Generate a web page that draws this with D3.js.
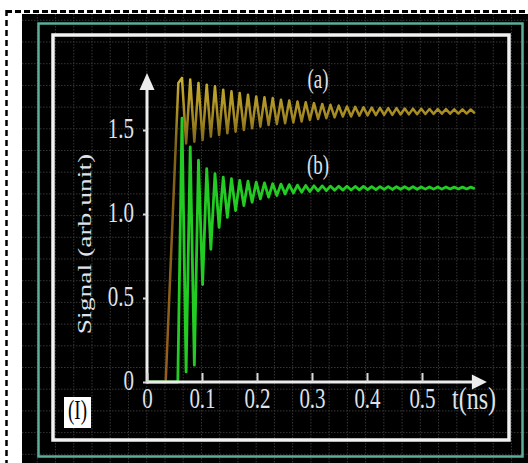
<!DOCTYPE html>
<html><head><meta charset="utf-8">
<script src="https://cdn.jsdelivr.net/npm/d3@7"></script>
<style>html,body{margin:0;padding:0;background:#fff;} svg{display:block}</style>
</head><body>
<svg id="c" width="528" height="463"></svg>
<script>
// ---------- data ----------
const xTicks = [0, 0.1, 0.2, 0.3, 0.4, 0.5];
const xTickLabels = ["0", "0.1", "0.2", "0.3", "0.4", "0.5"];
const yTicks = [0, 0.5, 1.0, 1.5];
const yTickLabels = ["0", "0.5", "1.0", "1.5"];
const seriesLabels = ["(a)", "(b)"];
const xAxisTitle = "t(ns)";
const yAxisTitle = "Signal (arb.unit)";
const panelLabel = "(I)";

// rising edge before oscillations
const riseTimeA = [0, 0.034, 0.057];
const riseValA  = [0, 0, 1.78];
const riseTimeB = [0, 0.056];
const riseValB  = [0, 0];

// times of oscillation extrema (peaks / troughs)
const oscTime = [0.0636,0.0711,0.0786,0.0861,0.0936,0.1011,0.1086,0.1161,0.1236,0.1311,
0.1386,0.1461,0.1536,0.1611,0.1686,0.1761,0.1836,0.1911,0.1986,0.2061,
0.2136,0.2211,0.2286,0.2361,0.2436,0.2511,0.2586,0.2661,0.2736,0.2811,
0.2886,0.2961,0.3036,0.3111,0.3186,0.3261,0.3336,0.3411,0.3486,0.3561,
0.3636,0.3711,0.3786,0.3861,0.3936,0.4011,0.4086,0.4161,0.4236,0.4311,
0.4386,0.4461,0.4536,0.4611,0.4686,0.4761,0.4836,0.4911,0.4986,0.5061,
0.5136,0.5211,0.5286,0.5361,0.5436,0.5511,0.5586,0.5661,0.5736,0.5811,
0.5886,0.5961];

// series (a)
const oscValA = [1.81,1.42,1.80,1.43,1.78,1.44,1.77,1.46,1.76,1.47,
1.74,1.48,1.73,1.49,1.72,1.50,1.71,1.51,1.70,1.52,
1.695,1.53,1.69,1.535,1.68,1.54,1.675,1.545,1.67,1.55,
1.665,1.56,1.66,1.565,1.655,1.57,1.65,1.575,1.645,1.58,
1.64,1.58,1.638,1.585,1.635,1.587,1.633,1.588,1.632,1.59,
1.63,1.59,1.63,1.592,1.628,1.593,1.627,1.594,1.626,1.595,
1.625,1.596,1.624,1.597,1.624,1.597,1.623,1.598,1.623,1.598,
1.622,1.599];

// series (b)
const oscValB = [1.57,0.06,1.40,0.10,1.32,0.58,1.27,0.79,1.24,0.92,
1.22,0.98,1.21,1.02,1.20,1.05,1.195,1.07,1.19,1.09,
1.185,1.10,1.18,1.11,1.178,1.12,1.175,1.125,1.172,1.13,
1.17,1.134,1.168,1.137,1.167,1.139,1.166,1.141,1.165,1.142,
1.165,1.143,1.164,1.144,1.164,1.145,1.163,1.145,1.163,1.146,
1.163,1.146,1.162,1.147,1.162,1.147,1.162,1.147,1.161,1.148,
1.161,1.148,1.161,1.148,1.161,1.149,1.160,1.149,1.160,1.149,
1.160,1.150];

// ---------- layout ----------
const W = 528, H = 463;
const svg = d3.select("#c");
const x = d3.scaleLinear().domain([0, 0.5]).range([147, 422]);
const y = d3.scaleLinear().domain([0, 1.5]).range([382, 130]);
const xArrowEnd = 0.618, yArrowEnd = 1.84;
const serif = "'Liberation Serif','Times New Roman',serif";
const VS = 1.45; // vertical stretch of text in the picture

// page frame
svg.append("rect").attr("x",0).attr("y",0).attr("width",W).attr("height",H).attr("fill","#fff");
svg.append("line").attr("x1",6).attr("x2",W).attr("y1",11.5).attr("y2",11.5)
  .attr("stroke","#000").attr("stroke-width",3).attr("stroke-dasharray","6,3");
svg.append("line").attr("x1",6.5).attr("x2",6.5).attr("y1",10).attr("y2",H)
  .attr("stroke","#000").attr("stroke-width",2.5).attr("stroke-dasharray","6,4");
svg.append("rect").attr("x",22).attr("y",14).attr("width",W-22).attr("height",H-14).attr("fill","#000");

// background dotted grid
const grid = svg.append("g").attr("stroke","#363636").attr("stroke-width",1).attr("stroke-dasharray","1.5,1.5");
for (let k=-3;k<=23;k++){ const gx=92+18.24*k; grid.append("line").attr("x1",gx).attr("x2",gx).attr("y1",14).attr("y2",H); }
for (let k=-1;k<=19;k++){ const gy=42+21.7*k; if(gy<14) continue; grid.append("line").attr("x1",22).attr("x2",W).attr("y1",gy).attr("y2",gy); }

// frames
svg.append("rect").attr("x",38.5).attr("y",23.5).attr("width",484).attr("height",433)
  .attr("fill","none").attr("stroke","#5aae9a").attr("stroke-width",2.5);
svg.append("rect").attr("x",53).attr("y",35).attr("width",456).attr("height",405)
  .attr("fill","none").attr("stroke","#f2f2f2").attr("stroke-width",3.5);

const defs = svg.append("defs");
// soft blur like the reference picture
defs.append("filter").attr("id","soft").attr("x","-5%").attr("y","-5%").attr("width","110%").attr("height","110%")
  .append("feGaussianBlur").attr("stdDeviation",0.6);
// gradient for series (a)
const gA = defs.append("linearGradient").attr("id","gA").attr("gradientUnits","userSpaceOnUse")
  .attr("x1",0).attr("x2",0).attr("y1",75).attr("y2",382);
gA.append("stop").attr("offset","0").attr("stop-color","#cdb232");
gA.append("stop").attr("offset","0.12").attr("stop-color","#a88e24");
gA.append("stop").attr("offset","0.23").attr("stop-color","#7e6418");
gA.append("stop").attr("offset","1").attr("stop-color","#9a5c1a");

// curves
const line = d3.line().x(d=>x(d[0])).y(d=>y(d[1]));
const dataA = riseTimeA.map((t,i)=>[t,riseValA[i]]).concat(oscTime.map((t,i)=>[t,oscValA[i]]));
const dataB = riseTimeB.map((t,i)=>[t,riseValB[i]]).concat(oscTime.map((t,i)=>[t,oscValB[i]]));
svg.append("path").attr("d",line(dataA)).attr("fill","none").attr("stroke","url(#gA)")
  .attr("stroke-width",2.5).attr("stroke-linejoin","round").attr("filter","url(#soft)");
svg.append("path").attr("d",line(dataB)).attr("fill","none").attr("stroke","#22cc22")
  .attr("stroke-width",2.8).attr("stroke-linejoin","round").attr("filter","url(#soft)");

// axes lines + arrows
const axCol = "#ececec";
svg.append("line").attr("x1",x(0)).attr("x2",x(xArrowEnd)-8).attr("y1",y(0)).attr("y2",y(0))
  .attr("stroke",axCol).attr("stroke-width",3);
svg.append("line").attr("x1",x(0)).attr("x2",x(0)).attr("y1",y(0)+1.5).attr("y2",y(yArrowEnd)+8)
  .attr("stroke",axCol).attr("stroke-width",3);
svg.append("path").attr("fill",axCol)
  .attr("d",`M${x(xArrowEnd)},${y(0)} L${x(xArrowEnd)-15},${y(0)-7.5} L${x(xArrowEnd)-15},${y(0)+7.5} Z`);
svg.append("path").attr("fill",axCol)
  .attr("d",`M${x(0)},${y(yArrowEnd)} L${x(0)-7.5},${y(yArrowEnd)+17} L${x(0)+7.5},${y(yArrowEnd)+17} Z`);

const labCol = "#dfe2ec";
// x axis ticks via d3 axis
const gx = svg.append("g").attr("transform",`translate(0,${y(0)})`)
  .call(d3.axisBottom(x).tickValues(xTicks).tickFormat((d,i)=>xTickLabels[i]).tickSize(-9).tickPadding(0));
gx.select(".domain").remove();
gx.selectAll(".tick line").attr("stroke","#d8d8d8").attr("stroke-width",2);
gx.selectAll(".tick text").attr("y",null).attr("dy",null)
  .attr("transform",`translate(0,26) scale(1,${VS})`)
  .attr("fill",labCol).attr("font-family",serif).attr("font-size",21);

// y axis ticks
const gy = svg.append("g").attr("transform",`translate(${x(0)},0)`)
  .call(d3.axisLeft(y).tickValues(yTicks).tickFormat((d,i)=>yTickLabels[i]).tickSize(4).tickPadding(0));
gy.select(".domain").remove();
gy.selectAll(".tick line").attr("stroke","#d8d8d8").attr("stroke-width",2);
gy.selectAll(".tick text").attr("x",null).attr("dy",null)
  .attr("transform",`translate(-13,7) scale(1,${VS})`)
  .attr("fill",labCol).attr("font-family",serif).attr("font-size",21).attr("text-anchor","end");

// titles
svg.append("text").text(xAxisTitle).attr("transform",`translate(452,409) scale(1,${VS})`)
  .attr("fill",labCol).attr("font-family",serif).attr("font-size",22).attr("textLength",44)
  .attr("lengthAdjust","spacingAndGlyphs");
svg.append("text").text(yAxisTitle).attr("transform",`translate(91,244) scale(1,${VS}) rotate(-90)`)
  .attr("fill",labCol).attr("font-family",serif).attr("font-size",19).attr("text-anchor","middle");

// series labels
const labPos = [[318, 88], [318, 174]];
seriesLabels.forEach((s,i)=>{
  svg.append("text").text(s).attr("transform",`translate(${labPos[i][0]},${labPos[i][1]}) scale(1,${VS})`)
    .attr("fill",labCol).attr("font-family",serif).attr("font-size",19).attr("text-anchor","middle");
});

// panel label box
svg.append("rect").attr("x",64).attr("y",397).attr("width",27).attr("height",31).attr("fill","#fff");
svg.append("text").text(panelLabel).attr("transform",`translate(77.5,419) scale(1,${VS})`)
  .attr("fill","#000").attr("font-family",serif).attr("font-size",19).attr("text-anchor","middle");
</script>
</body></html>
